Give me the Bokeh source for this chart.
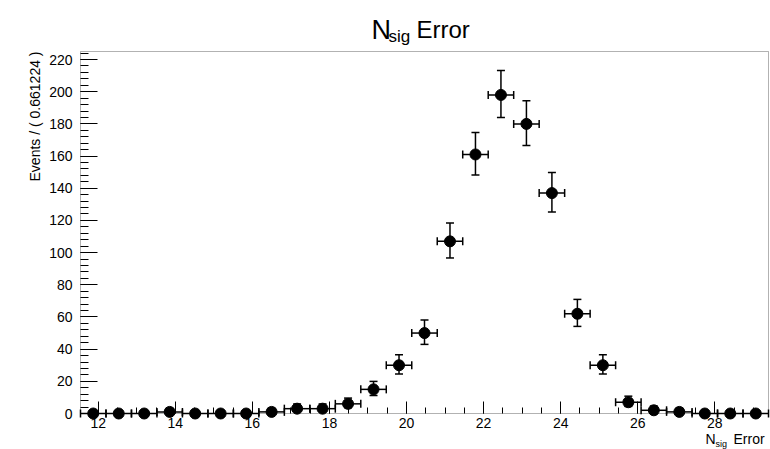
import math
from bokeh.plotting import figure
from bokeh.models import (ColumnDataSource, Whisker, TeeHead, Label,
                          FixedTicker, LinearAxis, BoxAnnotation)
from bokeh.embed import file_html
from bokeh.resources import INLINE

# ---- data ----
x_min = 11.54
bin_width = 0.661224
n_bins = 27
counts = [0, 0, 0, 1, 0, 0, 0, 1, 3, 3, 6, 15, 30, 50, 107,
          161, 198, 180, 137, 62, 30, 7, 2, 1, 0, 0, 0]
err_lo = [0, 0, 0, 0.83, 0, 0, 0, 0.83, 1.63, 1.63, 2.38, 3.82, 5.45, 7.04, 10.33,
          12.69, 14.08, 13.42, 11.70, 7.86, 5.45, 2.58, 1.29, 0.83, 0, 0, 0]
err_hi = [1.15, 1.15, 1.15, 2.30, 1.15, 1.15, 1.15, 2.30, 2.92, 2.92, 3.58, 4.95, 6.51, 8.12, 11.38,
          13.73, 15.12, 14.46, 12.74, 8.92, 6.51, 3.77, 2.64, 2.30, 1.15, 1.15, 1.15]
x_major_ticks = [12, 14, 16, 18, 20, 22, 24, 26, 28]
y_major_ticks = [0, 20, 40, 60, 80, 100, 120, 140, 160, 180, 200, 220]
y_max = 225
title_main = "N"
title_sub = "sig"
title_rest = "Error"
y_label = "Events / ( 0.661224 )"

x_max = x_min + n_bins * bin_width
centers = [x_min + (i + 0.5) * bin_width for i in range(n_bins)]
x_minor_ticks = [12 + 0.5 * k for k in range(0, 35) if 12 + 0.5 * k < x_max]
y_minor_ticks = [4 * k for k in range(0, 57) if 4 * k < y_max]

# ---- layout: plot box occupies pixels [L, W-R] x [T, H-B] of the canvas ----
W, H = 770, 449
L, R, T, B = 80, 2, 51, 36
FW, FH = W - L - R, H - T - B
dx = (x_max - x_min) / FW
dy = y_max / FH
xr = (x_min - L * dx, x_max + R * dx)
yr = (-B * dy, y_max + T * dy)

FONT = "Liberation Sans"

p = figure(width=W, height=H, x_range=xr, y_range=yr,
           min_border=0, toolbar_location=None, output_backend="svg",
           title=None, x_axis_location=None, y_axis_location=None)
p.background_fill_color = "white"
p.border_fill_color = "white"
p.outline_line_color = None
p.grid.visible = False

xaxis = LinearAxis(fixed_location=0,
                   ticker=FixedTicker(ticks=x_major_ticks, minor_ticks=x_minor_ticks))
yaxis = LinearAxis(fixed_location=x_min,
                   ticker=FixedTicker(ticks=y_major_ticks, minor_ticks=y_minor_ticks))
for ax in (xaxis, yaxis):
    ax.axis_line_color = None
    ax.major_tick_line_color = "black"
    ax.minor_tick_line_color = "black"
    ax.major_tick_out = 0
    ax.minor_tick_out = 0
    ax.major_label_text_font = FONT
    ax.major_label_text_font_size = "14px"
    ax.major_label_text_color = "black"
xaxis.major_tick_in = 12
xaxis.minor_tick_in = 6
yaxis.major_tick_in = 17
yaxis.minor_tick_in = 8
xaxis.major_label_standoff = 4
yaxis.major_label_standoff = 8
p.add_layout(xaxis, "below")
p.add_layout(yaxis, "left")

# plot box
p.add_layout(BoxAnnotation(left=x_min, right=x_max, bottom=0, top=y_max,
                           fill_alpha=0, line_color="black", line_width=1))

src = ColumnDataSource(dict(
    x=centers, y=counts,
    ylo=[c - e for c, e in zip(counts, err_lo)],
    yhi=[c + e for c, e in zip(counts, err_hi)],
    xlo=[c - bin_width / 2 for c in centers],
    xhi=[c + bin_width / 2 for c in centers],
))

vw = Whisker(source=src, base="x", lower="ylo", upper="yhi", dimension="height",
             line_color="black", line_width=1.5,
             upper_head=TeeHead(size=8, line_color="black", line_width=1.5),
             lower_head=TeeHead(size=8, line_color="black", line_width=1.5))
hw = Whisker(source=src, base="y", lower="xlo", upper="xhi", dimension="width",
             line_color="black", line_width=1.5,
             upper_head=TeeHead(size=8, line_color="black", line_width=1.5),
             lower_head=TeeHead(size=8, line_color="black", line_width=1.5))
p.add_layout(vw)
p.add_layout(hw)
p.scatter("x", "y", source=src, size=11, marker="circle",
          fill_color="black", line_color="black")


def add_text(px, py, text, size, align="left", angle=0.0):
    p.add_layout(Label(x=px, y=py, x_units="canvas", y_units="canvas",
                       text=text, text_font=FONT, text_font_size=size,
                       text_baseline="alphabetic", text_align=align,
                       angle=angle, text_color="black"))


# title
add_text(371, 29, title_main, "27px")
add_text(388, 36, title_sub, "17px")
add_text(416, 29, title_rest, "24px")

# x axis title
add_text(705, 438, title_main, "14px")
add_text(715, 443, title_sub, "9px")
add_text(733, 438, title_rest, "14px")

# y axis title
add_text(34, 51, y_label, "14px", align="right", angle=math.pi / 2)

open("out.html", "w").write(file_html(p, INLINE))
